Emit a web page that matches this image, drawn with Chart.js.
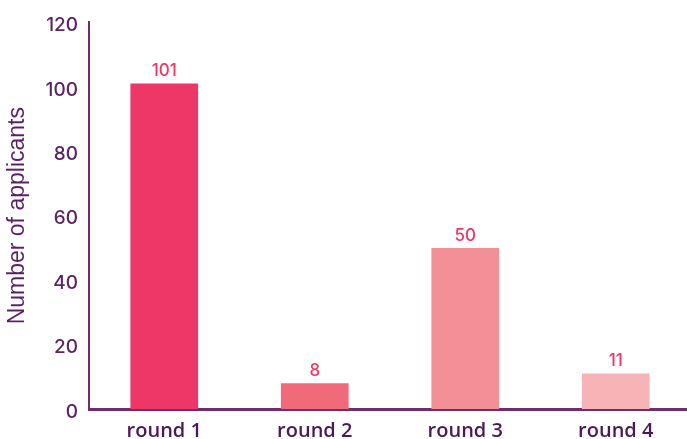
<!DOCTYPE html>
<html>
<head>
<meta charset="utf-8">
<script src="https://cdn.jsdelivr.net/npm/chart.js@4"></script>
<style>
  html, body { margin: 0; padding: 0; background: #fff; overflow: hidden; }
  #wrap { width: 691px; height: 439px; }
</style>
</head>
<body>
<div id="wrap"><canvas id="chart"></canvas></div>
<script>
var rounds = ["round 1", "round 2", "round 3", "round 4"];
var applicants = [101, 8, 50, 11];
var barColors = ["#ee3766", "#f06a7a", "#f29096", "#f7b3b5"];
var yTicks = [0, 20, 40, 60, 80, 100, 120];

var purple = "#5c2461";
var axisColor = "#6e2e6e";

// value labels above each bar
var barLabels = {
  id: "barLabels",
  afterDatasetsDraw: function (chart) {
    var ctx = chart.ctx;
    var meta = chart.getDatasetMeta(0);
    ctx.save();
    ctx.font = "500 17px Inter";
    ctx.fillStyle = "#ee3766";
    ctx.textAlign = "center";
    ctx.textBaseline = "bottom";
    meta.data.forEach(function (bar, i) {
      ctx.fillText(applicants[i], bar.x, bar.y - 4);
    });
    ctx.restore();
  }
};

new Chart(document.getElementById("chart").getContext("2d"), {
  type: "bar",
  data: {
    labels: rounds,
    datasets: [
      {
        data: applicants,
        backgroundColor: barColors,
        barPercentage: 0.45,
        categoryPercentage: 1
      }
    ]
  },
  options: {
    responsive: true,
    maintainAspectRatio: false,
    animation: false,
    layout: { padding: { top: 20, right: 0, left: 0, bottom: 0 } },
    plugins: { legend: { display: false }, tooltip: { enabled: false } },
    scales: {
      x: {
        grid: { display: false, drawTicks: false },
        border: { color: axisColor, width: 3 },
        ticks: {
          color: "#4b1a56",
          padding: 10,
          font: { family: "Open Sans", size: 20, weight: "600" }
        },
        afterFit: function (scale) { scale.height = 30; }
      },
      y: {
        min: 0,
        max: 120,
        afterBuildTicks: function (scale) {
          scale.ticks = yTicks.map(function (v) { return { value: v }; });
        },
        grid: { display: false, drawTicks: false },
        border: { color: axisColor, width: 2 },
        ticks: {
          color: purple,
          padding: 11,
          labelOffset: 3,
          font: { family: "Inter", size: 19, weight: "500" }
        },
        title: {
          display: true,
          text: "Number of applicants",
          color: "#5a1f66",
          padding: { top: 4, bottom: 0 },
          font: { family: "Liberation Sans", size: 23 }
        },
        afterFit: function (scale) { scale.width = 89; }
      }
    }
  },
  plugins: [barLabels]
});
</script>
</body>
</html>
